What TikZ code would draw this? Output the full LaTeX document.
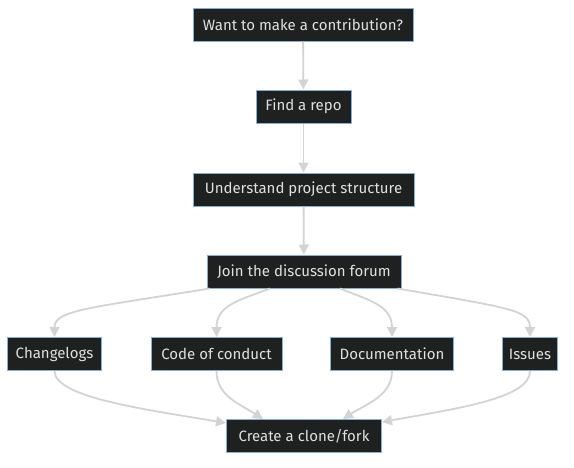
\documentclass[tikz,border=0pt]{standalone}
\usepackage{fontspec}
\setmainfont{Fira Sans}
\usetikzlibrary{arrows.meta,positioning}
\definecolor{boxfill}{HTML}{1F2020}
\definecolor{boxline}{HTML}{81B1DB}
\definecolor{boxtext}{HTML}{E0E0E0}
\definecolor{flowline}{HTML}{D3D3D3}
\tikzset{font=\fontsize{15}{17}\selectfont}
\tikzset{box/.style={rectangle,fill=boxfill,draw=boxline,line width=1pt,text=boxtext,minimum height=33pt,inner xsep=6pt}}
\tikzset{flow/.style={line width=1.8pt,draw=flowline,-{Triangle[length=10pt,width=10pt]}}}

\begin{document}
\begin{tikzpicture}
  [x=1pt,y=-1pt]
  \useasboundingbox (0,0) rectangle (574,467);
  \node [box,minimum width=220pt] (want) at (303,24.5) {Want to make a contribution?};
  \node [box,minimum width=95pt] (repo) at (303.5,106.5) {Find a repo};
  \node [box,minimum width=221pt] (under) at (303.5,189.5) {Understand project structure};
  \node [box,minimum width=194pt] (join) at (304,271.5) {Join the discussion forum};
  \node [box,minimum width=94pt] (chg) at (54.5,354) {Changelogs};
  \node [box,minimum width=131pt] (coc) at (216.5,354) {Code of conduct};
  \node [box,minimum width=123pt] (doc) at (392,354) {Documentation};
  \node [box,minimum width=55pt] (iss) at (530,354) {Issues};
  \node [box,minimum width=155pt] (clone) at (304,436) {Create a clone/fork};
\path
(want) edge[flow] (repo)
(repo) edge[flow] (under)
(under) edge[flow] (join);
\draw[flow] ([xshift=3pt]join.south west) .. controls (90,308) and (54.5,310) .. (chg.north);
\draw[flow] ([xshift=-34pt]join.south) .. controls (240,300) and (216.5,305) .. (coc.north);
\draw[flow] ([xshift=36pt]join.south) .. controls (368,300) and (392,305) .. (doc.north);
\draw[flow] ([xshift=-4pt]join.south east) .. controls (510,308) and (530,310) .. (iss.north);
\draw[flow] (chg.south) .. controls (54.5,398) and (150,410) .. ([yshift=-4pt]clone.north west);
\draw[flow] (coc.south) .. controls (216.5,396) and (240,404) .. ([xshift=-41pt]clone.north);
\draw[flow] (doc.south) .. controls (392,396) and (366,404) .. ([xshift=39pt]clone.north);
\draw[flow] (iss.south) .. controls (530,398) and (460,408) .. ([yshift=-3pt]clone.north east);
\end{tikzpicture}
\end{document}
